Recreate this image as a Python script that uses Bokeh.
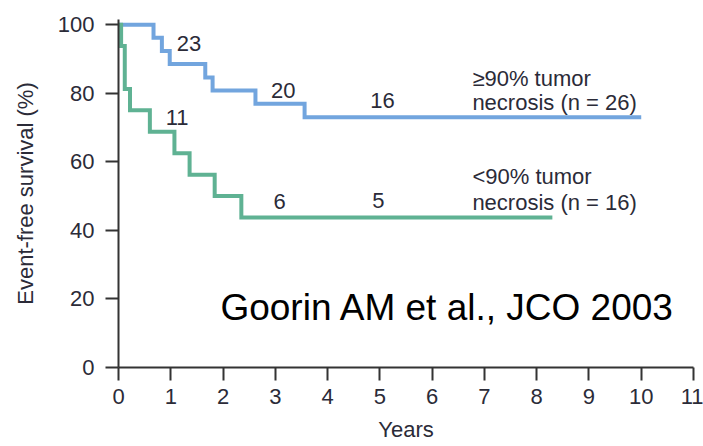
from bokeh.plotting import figure
from bokeh.models import Range1d, FixedTicker, Label
from bokeh.embed import file_html
from bokeh.resources import INLINE

# ---- data ----
high_times = [0.0, 0.67, 0.83, 0.98, 1.66, 1.80, 2.62, 3.56]
high_surv = [100.0, 96.2, 92.3, 88.5, 84.6, 80.8, 76.9, 73.0]
high_end = 10.0

low_times = [0.0, 0.05, 0.12, 0.22, 0.60, 1.07, 1.36, 1.84, 2.35]
low_surv = [100.0, 93.75, 81.25, 75.0, 68.75, 62.5, 56.25, 50.0, 43.75]
low_end = 8.3

at_risk_high = ["23", "20", "16"]
at_risk_low = ["11", "6", "5"]

legend_high = ["\u226590% tumor", "necrosis (n = 26)"]
legend_low = ["<90% tumor", "necrosis (n = 16)"]
citation = "Goorin AM et al., JCO 2003"

x_ticks = list(range(0, 12))
y_ticks = [0, 20, 40, 60, 80, 100]

# ---- positions / styles ----
BLUE = "#72a5de"
GREEN = "#5fb293"
TXT = "#2b2b38"
FONT = "Liberation Sans"

at_risk_high_pos = [(1.35, 94.5), (3.15, 80.7), (5.05, 77.8)]
at_risk_low_pos = [(1.12, 72.8), (3.08, 48.4), (4.97, 48.6)]
legend_x = 6.77
legend_high_y = [84.3, 77.3]
legend_low_y = [55.7, 48.1]

p = figure(width=703, height=446, output_backend="svg", toolbar_location=None,
           x_range=Range1d(0, 11), y_range=Range1d(0, 101.5),
           min_border_left=118, min_border_right=10, min_border_top=19,
           min_border_bottom=79)
p.outline_line_color = None
p.grid.visible = False
p.background_fill_color = "white"
p.border_fill_color = "white"

for ax in (p.xaxis[0], p.yaxis[0]):
    ax.axis_line_color = "#333333"
    ax.axis_line_width = 2
    ax.major_tick_line_color = "#333333"
    ax.major_tick_line_width = 2
    ax.major_tick_out = 13
    ax.major_tick_in = 0
    ax.minor_tick_out = 0
    ax.minor_tick_in = 0
    ax.major_label_text_font = FONT
    ax.major_label_text_font_size = "22px"
    ax.major_label_text_color = TXT
    ax.axis_label_text_font = FONT
    ax.axis_label_text_font_size = "22px"
    ax.axis_label_text_font_style = "normal"
    ax.axis_label_text_color = TXT

p.xaxis.ticker = FixedTicker(ticks=x_ticks)
p.yaxis.ticker = FixedTicker(ticks=y_ticks)
p.xaxis.axis_label = "Years"
p.yaxis.axis_label = "Event-free survival (%)"
p.xaxis.major_label_standoff = 8
p.xaxis.axis_label_standoff = 10
p.yaxis.major_label_standoff = 11
p.yaxis.axis_label_standoff = 17

p.step(high_times + [high_end], high_surv + [high_surv[-1]], mode="after",
       line_color=BLUE, line_width=4, line_join="miter")
p.step(low_times + [low_end], low_surv + [low_surv[-1]], mode="after",
       line_color=GREEN, line_width=4, line_join="miter")

for txt, (x, y) in zip(at_risk_high + at_risk_low, at_risk_high_pos + at_risk_low_pos):
    p.add_layout(Label(x=x, y=y, text=txt, text_align="center", text_baseline="alphabetic",
                       text_font=FONT, text_font_size="22px", text_color=TXT))

for txt, y in zip(legend_high + legend_low, legend_high_y + legend_low_y):
    p.add_layout(Label(x=legend_x, y=y, text=txt, text_align="left", text_baseline="alphabetic",
                       text_font=FONT, text_font_size="22px", text_color=TXT))

p.add_layout(Label(x=1.95, y=17.5, text=citation, text_align="left", text_baseline="alphabetic",
                   text_font=FONT, text_font_size="37px", text_color="black"))

open("out.html", "w").write(file_html(p, INLINE))
